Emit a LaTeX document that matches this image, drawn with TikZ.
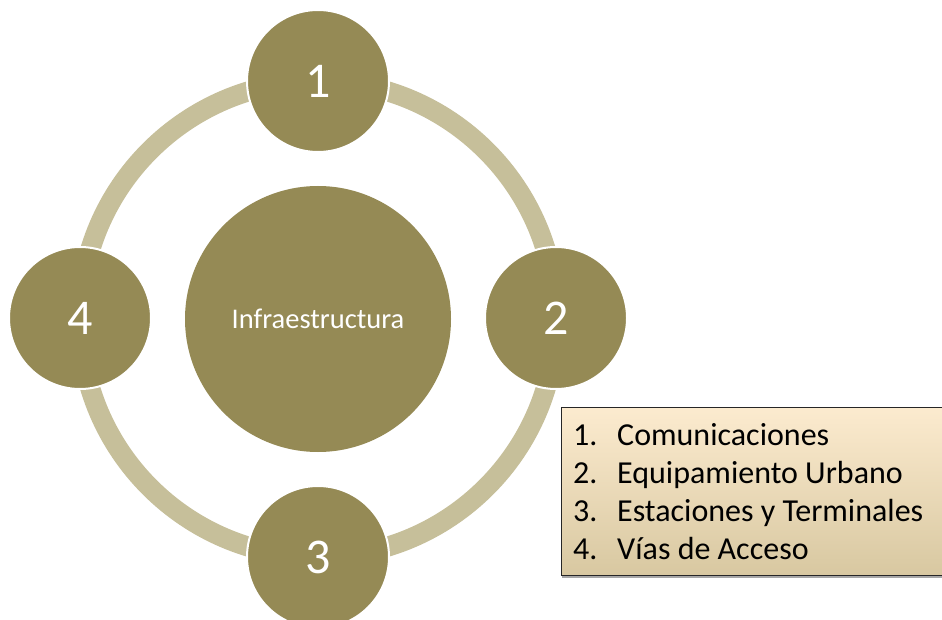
\documentclass[tikz,border=0pt]{standalone}
\usepackage{fontspec}
\setmainfont{Carlito}
\definecolor{olive}{HTML}{958A55}
\definecolor{ringc}{HTML}{C6BF9A}
\definecolor{legtop}{HTML}{FCEBCF}
\definecolor{legbot}{HTML}{D8C8A1}
\tikzset{
  small/.style={circle, fill=olive, draw=white, line width=2pt, minimum size=142pt, inner sep=0pt, text=white, font=\fontsize{50}{50}\selectfont},
  big/.style={circle, fill=olive, minimum size=266pt, inner sep=0pt, text=white, font=\fontsize{28.5}{28.5}\selectfont},
  legnum/.style={anchor=base west, font=\fontsize{32}{32}\selectfont, inner sep=0pt},
  legtxt/.style={anchor=base west, font=\fontsize{32}{32}\selectfont, inner sep=0pt}
}
\begin{document}
\begin{tikzpicture}[x=1pt,y=-1pt]
\useasboundingbox (0,0) rectangle (942,620);
\clip (0,0) rectangle (942,620);
\coordinate (c) at (318,319);
\draw[ringc, line width=20pt] (c) circle[radius=238];
\node[big] (center) at (c) {Infraestructura};
\node[small] (n1) at (318,81) {1};
\node[small] (n2) at (556,318) {2};
\node[small] (n3) at (318,557) {3};
\node[small] (n4) at (80,318) {4};
% legend
\fill[black!35] (562,409) rectangle (950,577.5);
\shade[top color=legtop, bottom color=legbot, draw=black!85, line width=0.9pt] (561,407) rectangle (950,575);
\node[legnum] (l1n) at (573,445) {1.};
\node[legtxt] (l1) at (617,445) {Comunicaciones};
\node[legnum] (l2n) at (573,483) {2.};
\node[legtxt] (l2) at (617,483) {Equipamiento Urbano};
\node[legnum] (l3n) at (573,521) {3.};
\node[legtxt] (l3) at (617,521) {Estaciones y Terminales};
\node[legnum] (l4n) at (573,559) {4.};
\node[legtxt] (l4) at (617,559) {Vías de Acceso};
\end{tikzpicture}
\end{document}
